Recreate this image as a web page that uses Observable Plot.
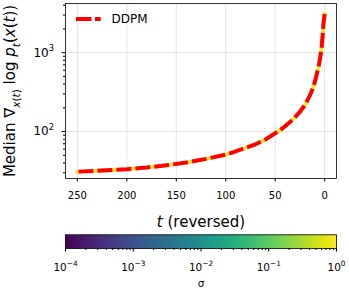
<!DOCTYPE html>
<html><head><meta charset="utf-8">
<script src="https://cdn.jsdelivr.net/npm/d3@7"></script>
<script src="https://cdn.jsdelivr.net/npm/@observablehq/plot@0.6"></script>
<style>
body{margin:0;background:#fff;font-family:"DejaVu Sans",sans-serif}
#chart{width:349px;position:relative}
#chart svg{display:block}
</style>
</head><body><div id="chart"></div>
<script>
// data
const tValues     = [0,1,2,3,4,5,6,8,10,12,15,18,21,25,30,35,40,45,50,60,70,80,90,100,120,140,160,180,200,225,250];
const medianScore = [3100,2450,1650,1200,950,790,680,530,420,350,285,240,208,178,152,132,117,104,95,79,69,62,56,51,45,40.5,37.3,35,33.3,32,31];
const xTicks = [250,200,150,100,50,0];
const yMajorTicks = [100,1000];
const yTickLabels = ["10^2","10^3"];
const yMinorTicks = [30,40,50,60,70,80,90,200,300,400,500,600,700,800,900,2000,3000,4000];
const sigmaTicks = [1e-4,1e-3,1e-2,1e-1,1];
const sigmaTickLabels = ["10^-4","10^-3","10^-2","10^-1","10^0"];
const sigmaMinor = [2,3,4,5,6,7,8,9];
const seriesName = "DDPM";
const xLabel = "t (reversed)";
const yLabel = "Median ∇x(t) log pt(x(t))";
const cLabel = "σ";

const data = tValues.map((t,i)=>({t, v: medianScore[i]}));
const font = "DejaVu Sans";

const main = Plot.plot({
  width:349, height:232,
  marginLeft:65, marginRight:13, marginTop:3, marginBottom:54,
  style:{fontFamily:font, background:"white", color:"black", overflow:"visible"},
  x:{domain:[262,-12]},
  y:{type:"log", domain:[25.4,4200]},
  marks:[
    Plot.gridX(xTicks,{stroke:"#dddddd", strokeOpacity:1, strokeWidth:0.8}),
    Plot.gridY(yMajorTicks,{stroke:"#dddddd", strokeOpacity:1, strokeWidth:0.8}),
    Plot.line(data,{x:"t", y:"v", stroke:"#fde725", strokeWidth:3.6, strokeLinecap:"square"}),
    Plot.line(data,{x:"t", y:"v", stroke:"#ff0000", strokeWidth:4, strokeDasharray:"15,4", strokeLinecap:"butt"}),
    Plot.frame({stroke:"black", strokeWidth:0.8}),
    Plot.axisX(xTicks,{tickSize:3.5, tickPadding:9.5, fontSize:10, label:null, tickFormat:d=>String(d)}),
    Plot.axisY(yMinorTicks,{tickSize:2, tickFormat:()=>"", label:null}),
    Plot.axisY(yMajorTicks,{tickSize:3.5, tickPadding:8, fontSize:12, label:null, tickFormat:(d)=>yTickLabels[yMajorTicks.indexOf(d)]}),
    Plot.text([xLabel],{frameAnchor:"bottom", dy:48, fontSize:15}),
    Plot.text([yLabel],{frameAnchor:"left", textAnchor:"middle", dx:-55, rotate:-90, fontSize:15})
  ]
});

const cbar = Plot.plot({
  width:349, height:63,
  marginLeft:65, marginRight:13, marginTop:2.3, marginBottom:47,
  style:{fontFamily:font, background:"white", color:"black", overflow:"visible"},
  x:{domain:[-4,0]},
  y:{domain:[0,1], axis:null},
  color:{type:"linear", domain:[-4,0], scheme:"viridis"},
  marks:[
    Plot.raster({x1:-4, x2:0, y1:0, y2:1, fill:(x,y)=>x, width:272, height:1}),
    Plot.frame({stroke:"black", strokeWidth:0.8}),
    Plot.axisX(sigmaTicks.slice(0,-1).flatMap(s=>sigmaMinor.map(m=>Math.log10(s*m))),{tickSize:2, tickFormat:()=>"", label:null}),
    Plot.axisX(sigmaTicks.map(Math.log10),{tickSize:3.5, tickPadding:11.5, fontSize:10.5, label:null, tickFormat:(d)=>sigmaTickLabels[Math.round(d)+4]}),
    Plot.text([cLabel],{frameAnchor:"bottom", dy:38, fontSize:10.5})
  ]
});

// rich text (italic / subscript) for the axis labels
function rich(el, parts, size){
  const s = d3.select(el); s.text(null);
  let down = false;
  const shift = size*0.28, sub = size*0.7;
  for(const p of parts){
    const ts = s.append("tspan").text(p.t);
    if(p.i) ts.attr("font-style","italic");
    if(p.sub){ ts.attr("font-size", sub); if(!down){ ts.attr("dy", shift); down=true; } }
    else if(down){ ts.attr("dy", -shift); down=false; }
  }
}
// superscript tick labels "10^k"
function supify(svg, size){
  d3.select(svg).selectAll("text").each(function(){
    const txt = this.textContent;
    if(!txt.includes("^")) return;
    const [base, exp] = txt.split("^");
    const s = d3.select(this); s.text(null);
    s.append("tspan").text(base);
    s.append("tspan").attr("dy", -size*0.45).attr("font-size", size*0.7).text(exp.replace("-","−"));
  });
}
supify(main, 12);
supify(cbar, 10.5);

const msvg = d3.select(main);
msvg.selectAll("text").each(function(){
  const txt = this.textContent;
  if(txt === yLabel){
    rich(this,[{t:"Median ∇"},{t:"x",i:1,sub:1},{t:"(",sub:1},{t:"t",i:1,sub:1},{t:")",sub:1},
               {t:" log "},{t:"p",i:1},{t:"t",i:1,sub:1},{t:"("},{t:"x",i:1},{t:"("},{t:"t",i:1},{t:"))"}],15);
  } else if(txt === xLabel){
    rich(this,[{t:"t",i:1},{t:" (reversed)"}],15);
  }
});

// legend (inside the axes, top-left)
const lg = msvg.append("g").attr("aria-label","legend").attr("text-anchor","start");
lg.append("line").attr("x1",76).attr("x2",100.7).attr("y1",19).attr("y2",19)
  .attr("stroke","#ff0000").attr("stroke-width",4).attr("stroke-dasharray","15.5,3.5");
lg.append("text").attr("x",111.5).attr("y",19).attr("dy","0.35em")
  .attr("font-size",12).attr("font-family",font).attr("fill","black").text(seriesName);

document.getElementById("chart").append(main, cbar);
</script>
</body></html>
